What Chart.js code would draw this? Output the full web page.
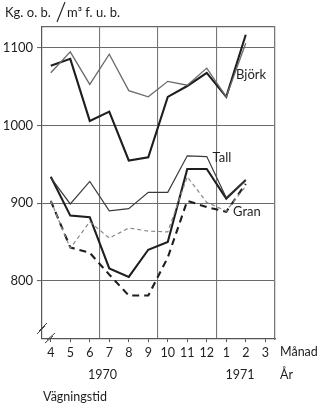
<!DOCTYPE html>
<html>
<head>
<meta charset="utf-8">
<script src="https://cdn.jsdelivr.net/npm/chart.js@4/dist/chart.umd.min.js"></script>
<style>
  html, body { margin: 0; padding: 0; background: #fff; }
  #wrap { width: 325px; height: 405px; position: relative; }
</style>
</head>
<body>
<div id="wrap"><canvas id="c" width="325" height="405"></canvas></div>
<script>
// Weighing month (4 = April 1970 ... 14 = February 1971)
const months = [4, 5, 6, 7, 8, 9, 10, 11, 12, 13, 14];
const monthTicks = [4, 5, 6, 7, 8, 9, 10, 11, 12, 13, 14, 15];
const monthLabels = ['4', '5', '6', '7', '8', '9', '10', '11', '12', '1', '2', '3'];
const quarterLines = [6.5, 9.5, 12.5, 15.5];
const yTicks = [800, 900, 1000, 1100];

// Kg dry matter per m3 solid volume
const bjorkA = [1077, 1086, 1006, 1018, 955, 959, 1037, 1051, 1068, 1037, 1117];
const bjorkB = [1068, 1095, 1053, 1092, 1045, 1037, 1057, 1052, 1074, 1037, 1106];
const tallA  = [934, 884, 882, 816, 805, 840, 850, 944, 944, 906, 930];
const tallB  = [933, 899, 928, 890, 893, 914, 914, 961, 960, 907, 930];
const granA  = [903, 843, 836, 808, 781, 781, 830, 903, 895, 889, 925];
const granB  = [903, 842, 876, 855, 868, 864, 863, 934, 901, 890, 922];

const pts = arr => arr.map((v, i) => ({ x: months[i], y: v }));
const FONT = 'Lato, "Liberation Sans", sans-serif';
const INK = '#1e1e1e';

function line(label, values, color, width, dash) {
  return {
    label, data: pts(values), borderColor: color, borderWidth: width,
    borderDash: dash || [], pointRadius: 0, tension: 0, fill: false
  };
}

const annotate = {
  id: 'annotate',
  afterDraw(chart) {
    const ctx = chart.ctx, a = chart.chartArea;
    const xs = chart.scales.x, ys = chart.scales.y;
    ctx.save();
    ctx.fillStyle = INK;
    ctx.textBaseline = 'middle';
    ctx.textAlign = 'left';

    // unit heading
    ctx.font = '13px ' + FONT;
    ctx.fillText('Kg. o. b.', 5, 13);
    ctx.fillText('m\u00B3 f. u. b.', 67, 13);
    ctx.strokeStyle = INK; ctx.lineWidth = 1.1;
    ctx.beginPath(); ctx.moveTo(57, 22); ctx.lineTo(65, 2); ctx.stroke();

    // series names
    ctx.font = '13px ' + FONT;
    ctx.fillText('Björk', xs.getPixelForValue(13.5), ys.getPixelForValue(1065));
    ctx.fillText('Tall', xs.getPixelForValue(12.3), ys.getPixelForValue(959));
    ctx.fillText('Gran', xs.getPixelForValue(13.35), ys.getPixelForValue(889));

    // axis captions
    ctx.font = '12.5px ' + FONT;
    ctx.fillText('Månad', a.right + 5, 352);
    ctx.fillText('År', a.right + 5, 375);
    ctx.textAlign = 'center';
    ctx.fillText('1970', xs.getPixelForValue(6.65), 375);
    ctx.fillText('1971', xs.getPixelForValue(13.7), 375);
    ctx.textAlign = 'left';
    ctx.fillText('Vägningstid', a.left + 1, 397);

    // axis break marks
    ctx.strokeStyle = '#444'; ctx.lineWidth = 1;
    const bx = a.left, by = a.bottom;
    [[-5, -9], [-3, -12]].forEach(([dx, dy]) => {
      ctx.beginPath(); ctx.moveTo(bx + dx, by + dy + 4); ctx.lineTo(bx + dx + 8, by + dy - 4); ctx.stroke();
    });
    [[3, 1], [5, -2]].forEach(([dx, dy]) => {
      ctx.beginPath(); ctx.moveTo(bx + dx, by + dy + 3); ctx.lineTo(bx + dx + 8, by + dy - 4); ctx.stroke();
    });
    ctx.restore();
  }
};

new Chart(document.getElementById('c'), {
  type: 'line',
  data: {
    datasets: [
      line('Björk (tunn)', bjorkB, '#6a6a6a', 1.3),
      line('Gran (tunn)', granB, '#8a8a8a', 1.2, [4, 3]),
      line('Tall (tunn)', tallB, '#3a3a3a', 1.2),
      line('Björk', bjorkA, INK, 2.1),
      line('Tall', tallA, INK, 2.1),
      line('Gran', granA, INK, 2.1, [7, 5])
    ]
  },
  options: {
    responsive: false,
    animation: false,
    events: [],
    layout: { padding: { top: 27, right: 50, bottom: 0, left: 0 } },
    plugins: { legend: { display: false }, tooltip: { enabled: false } },
    scales: {
      x: {
        type: 'linear', position: 'bottom', min: 3.55, max: 15.5,
        afterBuildTicks: s => { s.ticks = monthTicks.map(v => ({ value: v })); },
        afterFit: s => { s.height = 66; },
        ticks: {
          color: INK, font: { family: FONT, size: 12.5 }, padding: 3,
          maxRotation: 0, autoSkip: false,
          callback: v => monthLabels[monthTicks.indexOf(v)]
        },
        grid: { drawOnChartArea: false, drawTicks: true, tickLength: 3, color: '#555' },
        border: { display: true, color: '#555', width: 1.2 }
      },
      x2: {
        type: 'linear', position: 'top', min: 3.55, max: 15.5,
        afterBuildTicks: s => { s.ticks = quarterLines.map(v => ({ value: v })); },
        afterFit: s => { s.height = 0; },
        ticks: { display: false },
        grid: { drawTicks: false, color: '#777', lineWidth: 1.1 },
        border: { display: true, color: '#666', width: 1.2 }
      },
      y: {
        type: 'linear', position: 'left', min: 725, max: 1127,
        afterBuildTicks: s => { s.ticks = yTicks.map(v => ({ value: v })); },
        afterFit: s => { s.width = 42; },
        ticks: {
          color: INK, font: { family: FONT, size: 13 }, padding: 4,
          callback: v => String(v)
        },
        grid: { color: '#6a6a6a', lineWidth: 1.1, tickLength: 5 },
        border: { display: true, color: '#555', width: 1.2 }
      },
      y2: {
        type: 'linear', position: 'right', min: 725, max: 1127,
        afterFit: s => { s.width = 0; },
        ticks: { display: false },
        grid: { display: false },
        border: { display: true, color: '#777', width: 1.2 }
      }
    }
  },
  plugins: [annotate]
});
</script>
</body>
</html>
